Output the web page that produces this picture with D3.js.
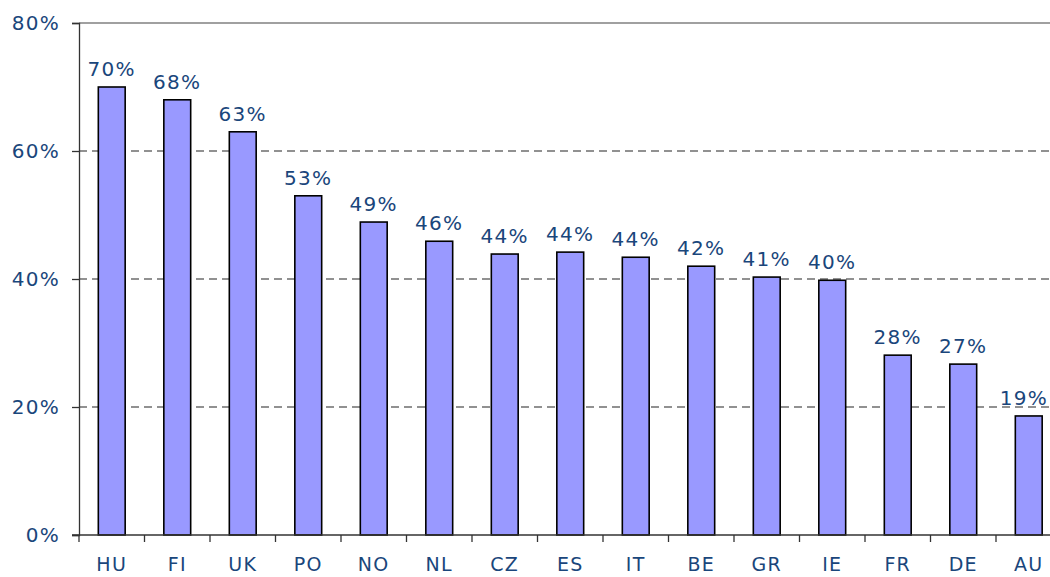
<!DOCTYPE html>
<meta charset="utf-8">
<html>
<head>
<style>
  body { margin: 0; background: #fff; }
  text { font-family: "DejaVu Sans", Verdana, sans-serif; fill: #1a467b; }
</style>
</head>
<body>
<script src="https://d3js.org/d3.v7.min.js"></script>
<script>

// data
var countries = ["HU","FI","UK","PO","NO","NL","CZ","ES","IT","BE","GR","IE","FR","DE","AU"];
var shares = [70.0, 68.0, 63.0, 53.0, 48.9, 45.9, 43.9, 44.2, 43.4, 42.0, 40.3, 39.8, 28.1, 26.7, 18.6];
var valueLabels = ["70%","68%","63%","53%","49%","46%","44%","44%","44%","42%","41%","40%","28%","27%","19%"];
var yTicks = [0, 20, 40, 60, 80];

var margin = {top: 23, right: 0, bottom: 42, left: 79},
    W = 1050, H = 577;

var svg = d3.select("body").append("svg")
  .attr("width", W)
  .attr("height", H);

var g = svg.append("g")
  .attr("transform", "translate(" + margin.left + "," + margin.top + ")");

var plotW = 982.5,   // runs a bit past the window like the original
    plotH = H - margin.top - margin.bottom;

var x = d3.scaleBand()
  .domain(countries)
  .range([0, plotW])
  .paddingInner(0.59)
  .paddingOuter(0.295);

var y = d3.scaleLinear()
  .domain([0, 80])
  .range([plotH, 0]);

// dashed gridlines
g.append("g")
  .selectAll("line")
  .data([20, 40, 60])
  .enter().append("line")
  .attr("x1", 0).attr("x2", plotW)
  .attr("y1", d => y(d)).attr("y2", d => y(d))
  .attr("stroke", "#6e6e6e")
  .attr("stroke-width", 1.3)
  .attr("stroke-dasharray", "8,5");

// top border at 80%
g.append("line")
  .attr("x1", 0).attr("x2", plotW)
  .attr("y1", y(80)).attr("y2", y(80))
  .attr("stroke", "#808080")
  .attr("stroke-width", 1.6);

// bars
g.selectAll(".bar")
  .data(shares)
  .enter().append("rect")
  .attr("class", "bar")
  .attr("x", (d, i) => x(countries[i]))
  .attr("width", x.bandwidth())
  .attr("y", d => y(d))
  .attr("height", d => plotH - y(d))
  .attr("fill", "#9999ff")
  .attr("stroke", "#000")
  .attr("stroke-width", 1.6);

// value labels (keep the last one inside the window)
var maxX = W - margin.left - 2;
g.selectAll(".val")
  .data(shares)
  .enter().append("text")
  .attr("class", "val")
  .attr("x", (d, i) => x(countries[i]) + x.bandwidth() / 2)
  .attr("y", d => y(d) - 11)
  .attr("text-anchor", "middle")
  .style("font-size", "20px")
  .style("letter-spacing", "1.3px")
  .text((d, i) => valueLabels[i])
  .each(function() {
    var b = this.getBBox();
    if (b.x + b.width > maxX) d3.select(this).attr("x", +d3.select(this).attr("x") - (b.x + b.width - maxX));
  });

// y axis
var yAxis = d3.axisLeft(y)
  .tickValues(yTicks)
  .tickSize(7)
  .tickPadding(12)
  .tickFormat(d => d + "%");

var ya = g.append("g").call(yAxis);
ya.select(".domain").attr("stroke", "#333").attr("stroke-width", 1.3);
ya.selectAll(".tick line").attr("stroke", "#333").attr("stroke-width", 1.3);
ya.selectAll(".tick text")
  .style("font-size", "20px")
  .style("letter-spacing", "1.3px")
  .style("fill", "#1a467b");

// x axis: ticks between categories
var xa = g.append("g").attr("transform", "translate(0," + plotH + ")");
xa.append("line")
  .attr("x1", -7).attr("x2", plotW)
  .attr("stroke", "#333").attr("stroke-width", 1.3);
xa.selectAll(".sep")
  .data(countries)
  .enter().append("line")
  .attr("class", "sep")
  .attr("x1", (d, i) => i * x.step())
  .attr("x2", (d, i) => i * x.step())
  .attr("y1", 0).attr("y2", 7)
  .attr("stroke", "#333").attr("stroke-width", 1.3);
xa.selectAll(".cat")
  .data(countries)
  .enter().append("text")
  .attr("class", "cat")
  .attr("x", d => x(d) + x.bandwidth() / 2)
  .attr("y", 36)
  .attr("text-anchor", "middle")
  .style("font-size", "19px")
  .style("letter-spacing", "1.3px")
  .text(d => d);

</script>
</body>
</html>
